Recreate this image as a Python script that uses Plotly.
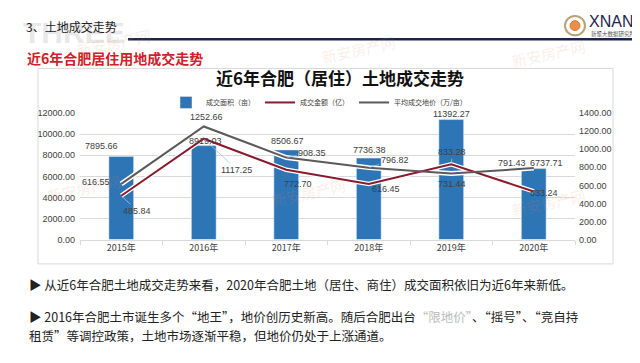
import plotly.graph_objects as go

# ---------------- data ----------------
years = ["2015年", "2016年", "2017年", "2018年", "2019年", "2020年"]
area = [7895.66, 8919.03, 8506.67, 7736.38, 11392.27, 6737.71]      # 成交面积（亩）
amount = [485.84, 1117.25, 772.70, 616.45, 833.28, 533.24]         # 成交金额（亿）
price = [616.55, 1252.66, 908.35, 796.82, 731.44, 791.43]          # 平均成交地价（万/亩）
left_ticks = [0, 2000, 4000, 6000, 8000, 10000, 12000]
right_ticks = [0, 200, 400, 600, 800, 1000, 1200, 1400]

# label offsets in pixels (dx, dy up, leader line)
area_off = [(-20, 10, False), (2, 5, False), (1, 9, False), (1, 8, False), (0, 6, False), (13, 6, False)]
price_off = [(-25, 2, False), (3, 9, False), (26, 5, True), (26, 8, True), (1, -10, True), (-22, 5, False)]
amount_off = [(16, -15, True), (33, -31, True), (12, -14, False), (17, -5, False), (1, 12, True), (10, -2, False)]

W, H = 640, 363
BLUE = "#2E75B6"
RED = "#8A1A2E"
GRAY = "#5A5A5A"
FONT = "Liberation Sans, Noto Sans CJK SC, sans-serif"
CJK = "Noto Sans CJK SC, sans-serif"


def px(x):
    return x / W


def py(y):
    return 1 - y / H


fig = go.Figure()
fig.add_trace(go.Bar(x=years, y=area, name="成交面积（亩）", marker_color=BLUE,
                     width=0.3, yaxis="y", legendrank=1))
# white halo under lines
fig.add_trace(go.Scatter(x=years, y=price, mode="lines", line=dict(color="white", width=5),
                         yaxis="y2", showlegend=False, hoverinfo="skip"))
fig.add_trace(go.Scatter(x=years, y=amount, mode="lines", line=dict(color="white", width=4.5),
                         yaxis="y2", showlegend=False, hoverinfo="skip"))
fig.add_trace(go.Scatter(x=years, y=amount, mode="lines", name="成交金额（亿）",
                         line=dict(color=RED, width=2), yaxis="y2", legendrank=2))
fig.add_trace(go.Scatter(x=years, y=price, mode="lines", name="平均成交地价（万/亩）",
                         line=dict(color=GRAY, width=2), yaxis="y2", legendrank=3))

annotations = []


def add_labels(values, offs, yref):
    for xv, v, (dx, dy, lead) in zip(years, values, offs):
        common = dict(x=xv, y=v, xref="x", yref=yref, text=f"{v:.2f}",
                      font=dict(size=9, color="#404040", family=FONT))
        if lead:
            annotations.append(dict(**common, showarrow=True, ax=dx, ay=-dy, arrowhead=0,
                                    arrowwidth=0.8, arrowcolor="#A9C1DC", standoff=1))
        else:
            annotations.append(dict(**common, showarrow=False, xshift=dx, yshift=dy))


add_labels(area, area_off, "y")
add_labels(price, price_off, "y2")
add_labels(amount, amount_off, "y2")

# faint watermarks (drawn first)
page = []
page.append(dict(text="<b>THREE</b>", x=px(13), y=py(1), xanchor="left", yanchor="top",
                 font=dict(size=30, color="#E8E8E8", family="Liberation Sans")))
for (wx, wy) in [(105, 30), (350, 38), (540, 42), (75, 180), (300, 185), (540, 195)]:
    page.append(dict(text="新安房产网", x=px(wx), y=py(wy), xanchor="center", yanchor="middle",
                     textangle=-12, font=dict(size=15, color="rgba(225,140,90,0.16)", family=CJK)))
# page decoration text
page += [
    dict(text="3、土地成交走势", x=px(16), y=py(14), xanchor="left", yanchor="middle",
         font=dict(size=12, color="#222222", family=CJK)),
    dict(text="XNAN", x=px(579), y=py(9), xanchor="left", yanchor="middle",
         font=dict(size=16, color="#1B2550", family="Liberation Sans")),
    dict(text="新聚大数据研究所", x=px(581), y=py(22), xanchor="left", yanchor="middle",
         font=dict(size=5.5, color="#555555", family=CJK)),
    dict(text="<b>近6年合肥居住用地成交走势</b>", x=px(17), y=py(46), xanchor="left", yanchor="middle",
         font=dict(size=14, color="#D0202A", family=CJK)),
    dict(text="▶ 从近6年合肥土地成交走势来看，2020年合肥土地（居住、商住）成交面积依旧为近6年来新低。",
         x=px(19), y=py(279), xanchor="left", yanchor="middle",
         font=dict(size=12.5, color="#222222", family=CJK)),
    dict(text="▶ 2016年合肥土市诞生多个“地王”，地价创历史新高。随后合肥出台"
              "<span style='color:#BBBBBB'>“限地价”</span>、“摇号”、“竞自持",
         x=px(19), y=py(312), xanchor="left", yanchor="middle",
         font=dict(size=12.5, color="#222222", family=CJK)),
    dict(text="租赁”等调控政策，土地市场逐渐平稳，但地价仍处于上涨通道。",
         x=px(19), y=py(332), xanchor="left", yanchor="middle",
         font=dict(size=12.5, color="#222222", family=CJK)),
]
for p in page:
    p.update(xref="paper", yref="paper", showarrow=False)
annotations = page + annotations

shapes = [
    dict(type="line", xref="paper", yref="paper", x0=px(120), x1=px(638), y0=py(27), y1=py(27),
         line=dict(color="#1B2550", width=2.5)),
    dict(type="rect", xref="paper", yref="paper", x0=px(30), x1=px(605), y0=py(57), y1=py(258),
         line=dict(color="#D9D9D9", width=1)),
    dict(type="circle", xref="paper", yref="paper", x0=px(557), x1=px(577), y0=py(3), y1=py(23),
         line=dict(color="#B8A27A", width=2), fillcolor="white"),
    dict(type="circle", xref="paper", yref="paper", x0=px(562), x1=px(572), y0=py(8), y1=py(18),
         line=dict(color="#E07030", width=1), fillcolor="#E8904A"),
]

fig.update_layout(
    width=W, height=H,
    margin=dict(l=0, r=0, t=0, b=0),
    paper_bgcolor="white", plot_bgcolor="white",
    font=dict(family=FONT, color="#404040"),
    title=dict(text="<b>近6年合肥（居住）土地成交走势</b>", x=px(332), xanchor="center",
               y=py(71), yanchor="middle", font=dict(size=17, color="#111111", family=CJK)),
    legend=dict(orientation="h", x=px(311), xanchor="center", y=py(92), yanchor="middle",
                font=dict(size=7, color="#404040", family=CJK), itemwidth=30,
                bgcolor="rgba(0,0,0,0)", traceorder="normal"),
    xaxis=dict(domain=[px(72), px(567)], showgrid=False, showline=True, linecolor="#D9D9D9",
               ticks="outside", tickson="boundaries", ticklen=4, tickcolor="#D9D9D9",
               tickfont=dict(size=9, color="#404040", family=CJK)),
    yaxis=dict(domain=[py(233), py(103)], range=[0, 12000], tickvals=left_ticks,
               tickformat=".2f", showgrid=True, gridcolor="#D9D9D9", zeroline=False,
               showline=False, tickfont=dict(size=9, color="#404040"), ticklabelstandoff=4),
    yaxis2=dict(domain=[py(233), py(103)], range=[0, 1400], tickvals=right_ticks,
                tickformat=".2f", overlaying="y", side="right", showgrid=False,
                zeroline=False, showline=False, tickfont=dict(size=9, color="#404040"),
                ticklabelstandoff=3),
    annotations=annotations,
    shapes=shapes,
    bargap=0.7,
    showlegend=True,
)

fig.write_html("out.html")
